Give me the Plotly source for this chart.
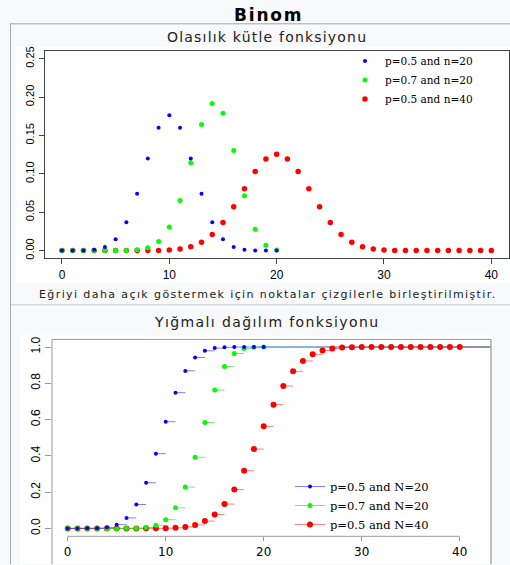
import plotly.graph_objects as go

# ---------------- data ----------------
k_n20 = list(range(21))
k_n40 = list(range(41))

pmf_p05_n20 = [0.000001, 0.000019, 0.000181, 0.001087, 0.004621, 0.014786, 0.036964,
               0.073929, 0.120134, 0.160179, 0.176197, 0.160179, 0.120134, 0.073929,
               0.036964, 0.014786, 0.004621, 0.001087, 0.000181, 0.000019, 0.000001]
pmf_p07_n20 = [0.0, 0.0, 0.0, 0.0000005, 0.000005, 0.000037, 0.000218, 0.001018,
               0.003859, 0.012007, 0.030817, 0.065370, 0.114397, 0.164262, 0.191639,
               0.178865, 0.130421, 0.071604, 0.027846, 0.006839, 0.000798]
pmf_p05_n40 = [0.0, 0.0, 0.0, 0.0, 0.0000001, 0.0000006, 0.0000035, 0.000017, 0.00007,
               0.000249, 0.000771, 0.002103, 0.005081, 0.010944, 0.021107, 0.036585,
               0.057164, 0.080702, 0.103118, 0.119401, 0.125371, 0.119401, 0.103118,
               0.080702, 0.057164, 0.036585, 0.021107, 0.010944, 0.005081, 0.002103,
               0.000771, 0.000249, 0.00007, 0.000017, 0.0000035, 0.0000006, 0.0000001,
               0.0, 0.0, 0.0, 0.0]

cdf_p05_n20 = [0.000001, 0.00002, 0.000201, 0.001288, 0.005909, 0.020695, 0.057659,
               0.131588, 0.251722, 0.411901, 0.588099, 0.748278, 0.868412, 0.942341,
               0.979305, 0.994091, 0.998712, 0.999799, 0.99998, 0.999999, 1.0]
cdf_p07_n20 = [0.0, 0.0, 0.0, 0.0000005, 0.000006, 0.000043, 0.000261, 0.001279,
               0.005138, 0.017144, 0.047961, 0.113331, 0.227728, 0.39199, 0.583629,
               0.762494, 0.892915, 0.964519, 0.992365, 0.999204, 1.0]
cdf_p05_n40 = [0.0, 0.0, 0.0, 0.0, 0.0000001, 0.0000006, 0.0000041, 0.0000211, 0.0000911,
               0.00034, 0.001111, 0.003214, 0.008295, 0.019239, 0.040346, 0.076931,
               0.134095, 0.214797, 0.317915, 0.437316, 0.562687, 0.682085, 0.785203,
               0.865905, 0.923069, 0.959654, 0.980761, 0.991705, 0.996786, 0.998889,
               0.99966, 0.999909, 0.999979, 0.999996, 0.9999994, 1.0, 1.0, 1.0, 1.0,
               1.0, 1.0]

x_tickvals = [0, 10, 20, 30, 40]
pmf_tickvals = [0.0, 0.05, 0.10, 0.15, 0.20, 0.25]
pmf_ticktext = ["0.00", "0.05", "0.10", "0.15", "0.20", "0.25"]
cdf_tickvals = [0.0, 0.2, 0.4, 0.6, 0.8, 1.0]
cdf_ticktext = ["0.0", "0.2", "0.4", "0.6", "0.8", "1.0"]

pmf_names = ["p=0.5 and n=20", "p=0.7 and n=20", "p=0.5 and n=40"]
cdf_names = ["p=0.5 and N=20", "p=0.7 and N=20", "p=0.5 and N=40"]

title_main = "Binom"
title_pmf = "Olasılık kütle fonksiyonu"
caption_pmf = "Eğriyi daha açık göstermek için noktalar çizgilerle birleştirilmiştir."
title_cdf = "Yığmalı dağılım fonksiyonu"

# ---------------- layout helpers ----------------
W, H = 510, 565
def fx(x):
    return x / W
def fy(y):
    return 1 - y / H

TOP_X_RANGE = [-1.6, 41.6]
TOP_Y_RANGE = [-0.01, 0.26]
BOT_X_RANGE = [-1.6, 43.19]
BOT_Y_RANGE = [-0.0436, 1.042]

colors = ["#0000ff", "#00ff00", "#ff0000"]
seg_colors = ["rgba(0,0,255,0.5)", "rgba(0,200,0,0.5)", "rgba(255,0,0,0.5)"]
pmf_sizes = [4, 5, 5.5]
cdf_sizes = [4, 5, 6]

pmf_series = [(k_n20, pmf_p05_n20), (k_n20, pmf_p07_n20), (k_n40, pmf_p05_n40)]
cdf_series = [(k_n20, cdf_p05_n20), (k_n20, cdf_p07_n20), (k_n40, cdf_p05_n40)]


def steps(ks, F, xend):
    xs, ys = [], []
    for i, (k, f) in enumerate(zip(ks, F)):
        x1 = ks[i + 1] if i + 1 < len(ks) else xend
        xs += [k, x1, None]
        ys += [f, f, None]
    return xs, ys


fig = go.Figure()

# top: PMF points (draw red first, blue last)
for i in [2, 1, 0]:
    ks, vals = pmf_series[i]
    fig.add_trace(go.Scatter(
        x=ks, y=vals, mode="markers", name=pmf_names[i],
        marker=dict(color=colors[i], size=pmf_sizes[i], line=dict(width=0)),
        xaxis="x", yaxis="y", legend="legend", legendrank=i + 1,
        hoverinfo="skip"))

# bottom: CDF step segments
for i in [2, 1, 0]:
    ks, vals = cdf_series[i]
    sx, sy = steps(ks, vals, BOT_X_RANGE[1])
    fig.add_trace(go.Scatter(
        x=sx, y=sy, mode="lines", line=dict(color=seg_colors[i], width=1),
        xaxis="x2", yaxis="y2", showlegend=False, legendgroup="c%d" % i,
        hoverinfo="skip"))
# bottom: CDF points
for i in [2, 1, 0]:
    ks, vals = cdf_series[i]
    fig.add_trace(go.Scatter(
        x=ks, y=vals, mode="markers",
        marker=dict(color=colors[i], size=cdf_sizes[i], line=dict(width=0)),
        xaxis="x2", yaxis="y2", showlegend=False, legendgroup="c%d" % i,
        hoverinfo="skip"))
# bottom legend entries
for i in [0, 1, 2]:
    fig.add_trace(go.Scatter(
        x=[None], y=[None], mode="lines+markers", name=cdf_names[i],
        line=dict(color=seg_colors[i], width=1),
        marker=dict(color=colors[i], size=cdf_sizes[i]),
        xaxis="x2", yaxis="y2", legend="legend2", legendgroup="c%d" % i,
        legendrank=i + 1))

tickfont = dict(family="Liberation Sans, Arial, sans-serif", size=12, color="#000")

shapes = [
    # white image backgrounds
    dict(type="rect", xref="paper", yref="paper", x0=fx(16), x1=fx(510), y0=fy(281), y1=fy(42),
         fillcolor="#ffffff", line=dict(width=0), layer="below"),
    dict(type="rect", xref="paper", yref="paper", x0=fx(20), x1=fx(493), y0=fy(565), y1=fy(334),
         fillcolor="#ffffff", line=dict(width=0), layer="below"),
    # infobox borders
    dict(type="line", xref="paper", yref="paper", x0=fx(10), x1=fx(510), y0=fy(19), y1=fy(19),
         line=dict(color="#a2a9b1", width=1), layer="above"),
    dict(type="line", xref="paper", yref="paper", x0=fx(10.5), x1=fx(10.5), y0=fy(19), y1=fy(565),
         line=dict(color="#a2a9b1", width=1), layer="above"),
    dict(type="line", xref="paper", yref="paper", x0=fx(11), x1=fx(510), y0=fy(303), y1=fy(303),
         line=dict(color="#c8ccd1", width=1), layer="above"),
    # bottom plot frame (left, right, top)
    dict(type="line", xref="paper", yref="paper", x0=fx(52), x1=fx(52), y0=fy(338), y1=fy(565),
         line=dict(color="#999999", width=1), layer="above"),
    dict(type="line", xref="paper", yref="paper", x0=fx(491), x1=fx(491), y0=fy(338), y1=fy(565),
         line=dict(color="#aaaaaa", width=1.5), layer="above"),
    dict(type="line", xref="paper", yref="paper", x0=fx(52), x1=fx(491), y0=fy(338), y1=fy(338),
         line=dict(color="#999999", width=1), layer="above"),
    # bottom x-axis line spanning first to last tick
    dict(type="line", xref="x2", yref="paper", x0=x_tickvals[0], x1=x_tickvals[-1],
         y0=fy(537), y1=fy(537), line=dict(color="#999999", width=1), layer="above"),
]

def spaced(text, sp):
    return '<span style="letter-spacing:%spx">%s</span>' % (sp, text)

annotations = [
    dict(text="<b>" + spaced(title_main, 1.8) + "</b>", x=fx(268), y=fy(10), xref="paper", yref="paper",
         showarrow=False, xanchor="center", yanchor="middle",
         font=dict(family="DejaVu Sans", size=17, color="#000")),
    dict(text=spaced(title_pmf, 1.2), x=fx(267), y=fy(32), xref="paper", yref="paper",
         showarrow=False, xanchor="center", yanchor="middle",
         font=dict(family="DejaVu Sans", size=14, color="#202122")),
    dict(text=spaced(caption_pmf, 1.4), x=fx(268), y=fy(293), xref="paper", yref="paper",
         showarrow=False, xanchor="center", yanchor="middle",
         font=dict(family="DejaVu Sans", size=11, color="#202122")),
    dict(text=spaced(title_cdf, 1.4), x=fx(267), y=fy(320), xref="paper", yref="paper",
         showarrow=False, xanchor="center", yanchor="middle",
         font=dict(family="DejaVu Sans", size=14, color="#202122")),
]

fig.update_layout(
    width=W, height=H, margin=dict(l=0, r=0, t=0, b=0, pad=0),
    paper_bgcolor="#f8f9fa", plot_bgcolor="rgba(0,0,0,0)",
    showlegend=True,
    xaxis=dict(domain=[fx(44.8), fx(508.5)], range=TOP_X_RANGE, anchor="y",
               showline=True, mirror=True, linecolor="#444", linewidth=1,
               ticks="outside", ticklen=5, tickcolor="#444", tickvals=x_tickvals,
               tickfont=tickfont, showgrid=False, zeroline=False, fixedrange=True),
    yaxis=dict(domain=[fy(256), fy(46.5)], range=TOP_Y_RANGE, anchor="x",
               showline=True, mirror=True, linecolor="#444", linewidth=1,
               ticks="outside", ticklen=5, tickcolor="#444",
               tickvals=pmf_tickvals, ticktext=pmf_ticktext, tickangle=-90,
               tickfont=dict(family="Liberation Sans, Arial, sans-serif", size=11, color="#000"),
               showgrid=False, zeroline=False, fixedrange=True),
    xaxis2=dict(domain=[fx(52), fx(491)], range=BOT_X_RANGE, anchor="y2",
                showline=False, ticks="outside", ticklen=4, tickcolor="#999",
                tickvals=x_tickvals,
                tickfont=dict(family="DejaVu Sans", size=12, color="#000"),
                showgrid=False, zeroline=False, fixedrange=True),
    yaxis2=dict(domain=[fy(537), fy(338)], range=BOT_Y_RANGE, anchor="x2",
                showline=False, ticks="outside", ticklen=6, tickcolor="#999",
                tickvals=cdf_tickvals, ticktext=cdf_ticktext, tickangle=-90,
                tickfont=dict(family="Liberation Sans, Arial, sans-serif", size=12, color="#000"),
                showgrid=False, zeroline=False, fixedrange=True),
    legend=dict(x=fx(345), y=fy(42), xanchor="left", yanchor="top",
                bgcolor="rgba(0,0,0,0)", borderwidth=0, tracegroupgap=0,
                font=dict(family="DejaVu Serif", size=10.5, color="#000")),
    legend2=dict(x=fx(290), y=fy(472), xanchor="left", yanchor="top",
                 bgcolor="rgba(0,0,0,0)", borderwidth=0, tracegroupgap=0,
                 font=dict(family="DejaVu Serif", size=11.5, color="#000")),
    shapes=shapes,
    annotations=annotations,
)

fig.write_html("out.html")
